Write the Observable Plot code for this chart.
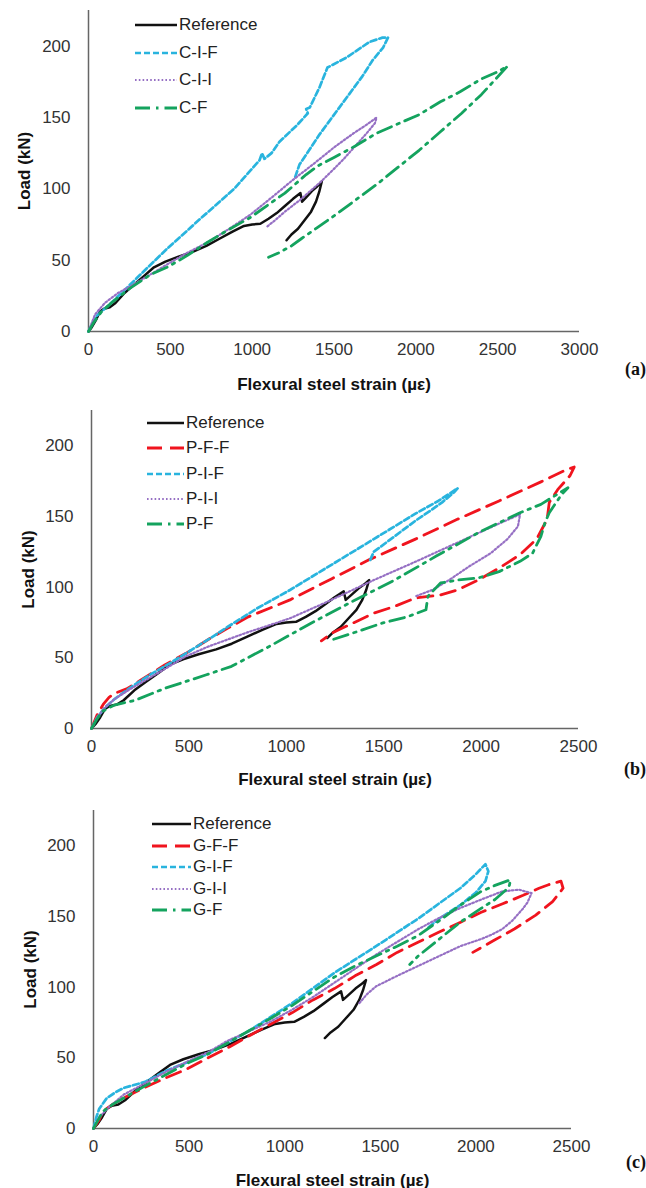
<!DOCTYPE html>
<html><head><meta charset="utf-8">
<script src="https://cdn.jsdelivr.net/npm/d3@7"></script>
<script src="https://cdn.jsdelivr.net/npm/@observablehq/plot@0.6"></script>
<style>
body{margin:0;background:#fff;font-family:"Liberation Sans",Arial,sans-serif;}
.panel{position:relative;width:646px;overflow:hidden;}
.panel svg{display:block;}
.legend{position:absolute;font-size:17px;color:#222;}
.legend .row{position:absolute;left:0;white-space:nowrap;display:flex;align-items:center;}
.legend .row svg{display:block;margin-right:2px;}
.tag{position:absolute;font-family:"Liberation Serif","Times New Roman",serif;font-weight:bold;font-size:18px;color:#111;}
</style></head><body><div id="root"></div>
<script>
// ---- data: [strain (µε), load (kN)] ----
const reference = [[0,0],[20,3],[45,8],[70,14],[95,16],[130,17],[165,20],[220,27],[280,33],[340,39],[400,45],[470,49],[550,52.5],[640,56],[720,60],[800,65],[880,70],[950,74],[1000,75],[1050,75.5],[1100,79],[1150,83],[1200,88],[1250,93],[1295,97],[1305,91],[1330,94],[1370,99],[1400,102],[1425,105],[1410,98],[1390,91],[1360,84],[1320,78],[1280,72],[1240,68],[1210,64]];

// panel (a)
const cIF = [[0,0],[40,10],[120,18],[220,29],[300,38],[480,58],[683,79],[890,100],[1045,120],[1060,125],[1075,121],[1118,125],[1167,133],[1277,145],[1340,153],[1330,156],[1352,157],[1411,171],[1460,185],[1576,192],[1717,203],[1796,206],[1830,206],[1800,199],[1735,190],[1674,179],[1552,160],[1411,138],[1330,124],[1289,117],[1262,108]];
const cII = [[0,0],[40,12],[100,20],[180,27],[260,32],[350,38],[480,47],[600,55],[735,63],[860,72],[990,82],[1120,94],[1246,106],[1370,117],[1500,129],[1620,139],[1700,145],[1760,150],[1750,146],[1700,139],[1630,130],[1560,121],[1500,114],[1420,105],[1350,98],[1290,92],[1200,84],[1140,78],[1085,73]];
const cF = [[0,0],[30,6],[80,14],[150,21],[250,30],[380,40],[480,45],[600,53],[720,62],[850,71],[990,80],[1100,89],[1200,97],[1260,103],[1330,110],[1400,116],[1500,122],[1630,130],[1760,139],[1900,146],[2020,152],[2150,161],[2270,168],[2400,177],[2500,182],[2560,186],[2480,176],[2400,166],[2280,153],[2150,140],[2020,127],[1890,115],[1760,103],[1630,92],[1500,81],[1400,73],[1300,65],[1240,60],[1160,55],[1100,52]];

// panel (b)
const pFF = [[0,0],[30,10],[60,17],[90,22],[120,25],[180,28],[250,34],[376,45],[483,53],[600,63],[700,71],[805,79],[1019,91],[1234,106],[1427,119.5],[1663,134],[1878,148],[2092,161],[2307,174.5],[2436,183],[2478,185],[2457,179],[2393,169],[2350,160],[2339,148],[2285,134],[2200,123],[2092,113.5],[1985,105],[1878,98],[1792,94.5],[1663,92.3],[1556,86.4],[1449,81.6],[1341,74.5],[1234,67.5],[1180,62]];
const pIF = [[0,0],[30,8],[70,15],[120,21],[200,29],[300,38],[400,46],[483,53],[600,63],[700,72],[850,85],[1019,98],[1234,116],[1449,134],[1663,152],[1780,161],[1880,170],[1860,167],[1800,160],[1749,155],[1663,147],[1556,136],[1449,125],[1427,118]];
const pII = [[0,0],[30,8],[70,15],[120,21],[200,28],[300,36],[400,44],[483,51],[600,58],[700,63],[800,68],[912,73],[1019,78],[1200,89],[1449,105],[1663,118],[1878,131.5],[2092,145],[2200,151.5],[2189,143],[2135,134],[2049,124],[1942,115],[1835,105],[1749,98],[1663,93.5]];
const pF = [[0,0],[25,6],[54,12],[118,16.6],[225,20],[376,28.4],[590,38],[719,44],[912,58],[1127,74.5],[1341,90],[1556,105],[1770,122],[1985,138.5],[2200,152.7],[2307,158.6],[2446,170.4],[2414,165.7],[2350,152.7],[2328,145.6],[2307,136],[2264,124],[2200,118.3],[2092,111],[1985,106.5],[1878,105],[1792,103],[1727,93.5],[1717,84],[1620,79],[1491,74.5],[1341,67.5],[1234,62.7]];

// panel (c)
const gFF = [[0,0],[30,6],[48,12],[100,17],[158,21.6],[268,29],[380,36],[488,42],[600,50],[708,57.5],[820,66],[928,74],[1040,82],[1148,91],[1260,99],[1368,108],[1480,116],[1588,124.6],[1700,132],[1808,139],[1920,146],[2028,153],[2140,159],[2247,165],[2330,170],[2380,172.5],[2445,175],[2456,170],[2401,160.5],[2313,151],[2203,141.3],[2093,133],[1984,124.6]];
const gIF = [[0,0],[15,8],[30,14],[70,21.6],[120,26],[158,28.7],[270,33],[378,40.7],[598,52.7],[818,69.5],[1038,88.6],[1258,110],[1478,129],[1698,148.5],[1918,170],[2000,180],[2050,187],[2065,182],[2050,175],[2000,167],[1918,158],[1808,148.5],[1750,142]];
const gII = [[0,0],[30,8],[80,15],[158,24],[270,32],[378,40],[500,48],[600,54],[700,62],[818,69],[930,76],[1038,84],[1148,93],[1258,103],[1368,113],[1478,123],[1588,132],[1698,141],[1808,149],[1918,156],[2028,162],[2137,167.7],[2225,169],[2291,166.5],[2270,160],[2247,155.7],[2190,147],[2137,141],[2080,137],[2027,134],[1918,129],[1808,122],[1698,115],[1588,108],[1478,100.6],[1430,95],[1390,88.6]];
const gF = [[0,0],[20,5],[48,12],[100,17],[158,21.6],[268,30],[378,38],[488,46],[598,52.7],[708,61],[818,69.5],[928,78],[1038,87],[1148,97],[1258,107],[1368,115],[1478,122],[1588,129],[1698,136.5],[1808,147],[1918,158],[2027,167.7],[2100,172],[2181,176],[2175,172],[2159,169],[2100,162],[2027,155.7],[1918,146],[1808,134],[1698,122],[1654,116]];

const xTicksA = [0,500,1000,1500,2000,2500,3000];
const xTicksBC = [0,500,1000,1500,2000,2500];
const yTicks = [0,50,100,150,200];

// ---- styles ----
const ST = {
  ref:  {stroke:"#111", w:2.5, dash:null},
  IF:   {stroke:"#29b4de", w:2.7, dash:"6,3"},
  II:   {stroke:"#9670c4", w:2.2, dash:"1.6,2.2"},
  F:    {stroke:"#14a35e", w:2.8, dash:"15,6,2.5,6"},
  FF:   {stroke:"#f0141e", w:2.8, dash:"15,8"}
};

const panels = [
  {tag:"(a)", h:396, mt:10, mb:65, ml:88, mr:67, xmax:3000, xt:xTicksA, ylo:71, xlo:58, tagTop:359,
   legend:{left:135, top:25, gap:27.7, lw:42},
   series:[["Reference",reference,ST.ref],["C-I-F",cIF,ST.IF],["C-I-I",cII,ST.II],["C-F",cF,ST.F]]},
  {tag:"(b)", h:400, mt:14, mb:68, ml:91, mr:68, xmax:2500, xt:xTicksBC, ylo:70, xlo:56, tagTop:363,
   legend:{left:147, top:27, gap:25.3, lw:37},
   series:[["Reference",reference,ST.ref],["P-F-F",pFF,ST.FF],["P-I-F",pIF,ST.IF],["P-I-I",pII,ST.II],["P-F",pF,ST.F]]},
  {tag:"(c)", h:392, mt:14, mb:60, ml:93, mr:75, xmax:2500, xt:xTicksBC, ylo:70, xlo:57, tagTop:356,
   legend:{left:152, top:28, gap:21.5, lw:39},
   series:[["Reference",reference,ST.ref],["G-F-F",gFF,ST.FF],["G-I-F",gIF,ST.IF],["G-I-I",gII,ST.II],["G-F",gF,ST.F]]}
];

const root = document.getElementById("root");
for (const p of panels) {
  const div = document.createElement("div");
  div.className = "panel";
  div.style.height = p.h + "px";
  const chart = Plot.plot({
    width: 646, height: p.h,
    marginTop: p.mt, marginBottom: p.mb, marginLeft: p.ml, marginRight: p.mr,
    x: {domain:[0,p.xmax]},
    y: {domain:[0,225]},
    style: {fontFamily:"'Liberation Sans', Arial, sans-serif", fontSize:"17px", color:"#333", background:"transparent", overflow:"visible"},
    marks: [
      Plot.axisX({ticks:p.xt, tickSize:0, tickPadding:11, tickFormat:d=>String(d), label:null, fontSize:17}),
      Plot.axisX({ticks:[], label:"Flexural steel strain (µε)", labelAnchor:"center", labelArrow:"none", labelOffset:p.xlo, fontSize:17, fontWeight:"bold", fill:"#111"}),
      Plot.axisY({ticks:yTicks, tickSize:0, tickPadding:18, tickFormat:d=>String(d), label:null, fontSize:17}),
      Plot.axisY({ticks:[], label:"Load (kN)", labelAnchor:"center", labelArrow:"none", labelOffset:p.ylo, fontSize:17, fontWeight:"bold", fill:"#111"}),
      Plot.ruleX([0], {stroke:"#666", strokeWidth:1.5}),
      Plot.ruleY([0], {stroke:"#666", strokeWidth:1.5}),
      ...p.series.map(([name, data, s]) => Plot.line(data, {x:d=>d[0], y:d=>d[1], stroke:s.stroke, strokeWidth:s.w, strokeDasharray:s.dash, strokeLinejoin:"round"}))
    ]
  });
  div.appendChild(chart);

  // legend
  const lg = document.createElement("div");
  lg.className = "legend";
  lg.style.left = p.legend.left + "px";
  lg.style.top = p.legend.top + "px";
  p.series.forEach(([name, data, s], i) => {
    const row = document.createElement("div");
    row.className = "row";
    row.style.top = (i * p.legend.gap - 11) + "px";
    row.style.height = "22px";
    const ns = "http://www.w3.org/2000/svg";
    const sv = document.createElementNS(ns, "svg");
    sv.setAttribute("width", p.legend.lw); sv.setAttribute("height", 10);
    const ln = document.createElementNS(ns, "line");
    ln.setAttribute("x1", 0); ln.setAttribute("x2", p.legend.lw);
    ln.setAttribute("y1", 5); ln.setAttribute("y2", 5);
    ln.setAttribute("stroke", s.stroke); ln.setAttribute("stroke-width", s.w);
    if (s.dash) ln.setAttribute("stroke-dasharray", s.dash);
    sv.appendChild(ln);
    row.appendChild(sv);
    const tx = document.createElement("span");
    tx.textContent = name;
    row.appendChild(tx);
    lg.appendChild(row);
  });
  div.appendChild(lg);

  const tag = document.createElement("div");
  tag.className = "tag";
  tag.textContent = p.tag;
  tag.style.right = "0px";
  tag.style.top = p.tagTop + "px";
  div.appendChild(tag);

  root.appendChild(div);
}
</script>
</body></html>
